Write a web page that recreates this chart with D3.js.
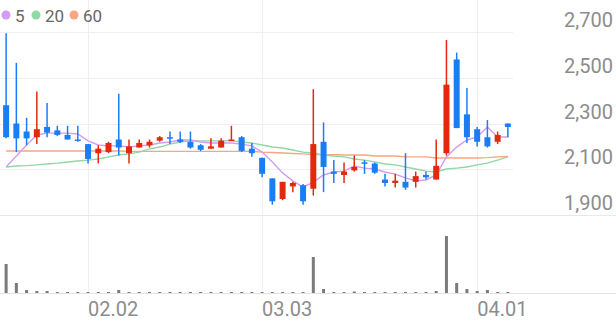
<!DOCTYPE html>
<html>
<head>
<meta charset="utf-8">
<script src="https://cdn.jsdelivr.net/npm/d3@7"></script>
<style>
  html, body { margin: 0; padding: 0; background: #fff; }
  svg { display: block; font-family: Roboto, "Noto Sans", sans-serif; }
</style>
</head>
<body>
<div id="viz"></div>
<script>
// trading days (2026)
const dates = [
  "2026-01-21","2026-01-22","2026-01-23","2026-01-26","2026-01-27","2026-01-28","2026-01-29","2026-01-30",
  "2026-02-02","2026-02-03","2026-02-04","2026-02-05","2026-02-06","2026-02-09","2026-02-10","2026-02-11",
  "2026-02-12","2026-02-13","2026-02-19","2026-02-20","2026-02-23","2026-02-24","2026-02-25","2026-02-26",
  "2026-02-27","2026-03-03","2026-03-04","2026-03-05","2026-03-06","2026-03-09","2026-03-10","2026-03-11",
  "2026-03-12","2026-03-13","2026-03-16","2026-03-17","2026-03-18","2026-03-19","2026-03-20","2026-03-23",
  "2026-03-24","2026-03-25","2026-03-26","2026-03-27","2026-03-30","2026-03-31","2026-04-01","2026-04-02",
  "2026-04-03","2026-04-06"
];

const open  = [2380,2300,2265,2240,2285,2270,2250,2230,2210,2170,2175,2230,2170,2195,2205,2225,2240,2230,2220,2205,2190,2195,2225,2240,2190,
               2150,2060,1970,2025,2030,2015,2220,2090,2075,2095,2130,2125,2055,2040,2045,2045,2075,2055,2170,2580,2340,2275,2240,2220,2300];
const high  = [2695,2565,2325,2440,2390,2290,2290,2290,2210,2205,2220,2430,2230,2230,2230,2245,2265,2265,2265,2210,2235,2235,2290,2245,2215,
               2150,2060,2045,2045,2035,2450,2305,2140,2130,2160,2140,2130,2080,2080,2170,2090,2090,2230,2665,2610,2455,2285,2315,2265,2300];
const low   = [2235,2175,2205,2210,2240,2245,2230,2220,2125,2125,2170,2160,2125,2195,2195,2220,2210,2215,2190,2180,2190,2195,2225,2175,2155,
               2065,1945,1965,2000,1945,1985,2000,2040,2040,2090,2080,2080,2025,2020,2010,2020,2055,2055,2160,2280,2215,2200,2195,2210,2240];
const close = [2240,2235,2235,2275,2260,2250,2230,2225,2145,2190,2215,2195,2200,2215,2220,2240,2235,2220,2195,2185,2200,2225,2230,2180,2170,
               2080,1960,2045,2040,1960,2210,2110,2080,2090,2110,2125,2085,2040,2050,2020,2070,2065,2115,2470,2280,2240,2220,2200,2250,2285];

const volume = [2900,1000,300,200,200,100,100,100,100,100,100,300,100,100,100,100,100,100,100,100,100,100,100,100,100,
                100,100,100,100,100,3600,400,100,100,150,100,100,100,100,100,100,100,200,5700,1000,400,200,300,100,100];

// moving averages
const ma5  = [2110,2158,2206,2250,2258,2258,2258,2254,2224,2206,2202,2202,2197,2202,2206,2215,2219,2228,2228,2219,2215,2215,2215,2210,2202,
              2175,2132,2084,2049,2022,2044,2075,2088,2092,2114,2105,2101,2088,2079,2062,2049,2053,2075,2154,2197,2228,2241,2285,2241,2241];
const ma20 = [2110,2114,2116,2119,2123,2127,2132,2136,2140,2145,2154,2162,2167,2175,2189,2197,2210,2219,2224,2224,2224,2224,2224,2219,2215,
              2206,2197,2193,2184,2175,2171,2162,2158,2154,2145,2140,2132,2123,2119,2110,2101,2092,2088,2101,2105,2110,2119,2127,2140,2154];
const ma60 = [2180,2180,2180,2180,2180,2180,2180,2180,2180,2180,2180,2180,2178,2178,2178,2178,2178,2178,2178,2178,2178,2178,2178,2178,2178,
              2175,2173,2171,2169,2167,2164,2164,2164,2162,2162,2162,2158,2158,2158,2154,2154,2154,2149,2149,2149,2149,2149,2151,2154,2156];

const priceTicks = [1900, 2100, 2300, 2500, 2700];
const monthTicks = ["2026-02-02", "2026-03-03", "2026-04-01"];
const maNames = ["5", "20", "60"];
const maColors = ["#d49cf0", "#90d8a4", "#f7a582"];

const upColor = "#e2290c", downColor = "#1b7df4";

const W = 616, H = 321;
const svg = d3.select("#viz").append("svg").attr("width", W).attr("height", H);

const x = d3.scaleBand().domain(dates).range([1, 513]).padding(0);
const cx = d => x(d) + x.bandwidth() / 2;
const y = d3.scaleLinear().domain([1900, 2700]).range([215, 32]);
const yv = d3.scaleLinear().domain([0, 7800]).range([293, 215]);

const rows = dates.map((d, i) => ({date: d, o: open[i], h: high[i], l: low[i], c: close[i], v: volume[i]}));

// grid
const grid = svg.append("g");
grid.selectAll("line.h").data(priceTicks.filter(t => t !== 1900)).join("line")
  .attr("x1", 0).attr("x2", 513)
  .attr("y1", d => Math.round(y(d)) + 0.5).attr("y2", d => Math.round(y(d)) + 0.5)
  .attr("stroke", "#efefef");
grid.selectAll("line.v").data(monthTicks).join("line")
  .attr("x1", d => Math.round(cx(d)) + 0.5).attr("x2", d => Math.round(cx(d)) + 0.5)
  .attr("y1", 0).attr("y2", 293)
  .attr("stroke", "#efefef");
grid.append("line").attr("x1", 0).attr("x2", W).attr("y1", 215.5).attr("y2", 215.5).attr("stroke", "#e8e8e8");
grid.append("line").attr("x1", 0).attr("x2", W).attr("y1", 293.5).attr("y2", 293.5).attr("stroke", "#e3e3e3");

// moving averages
const line = d3.line().x((d, i) => cx(dates[i])).y(d => y(d));
[ma60, ma20, ma5].forEach((s, k) => {
  svg.append("path").datum(s)
    .attr("fill", "none")
    .attr("stroke", maColors[2 - k])
    .attr("stroke-width", 1.4)
    .attr("d", line);
});

// candles
const candles = svg.append("g").selectAll("g").data(rows).join("g");
candles.append("line")
  .attr("x1", d => cx(d.date)).attr("x2", d => cx(d.date))
  .attr("y1", d => y(d.h)).attr("y2", d => y(d.l))
  .attr("stroke", d => d.c >= d.o ? upColor : downColor)
  .attr("stroke-width", 1.5);
candles.append("rect")
  .attr("x", d => cx(d.date) - 3)
  .attr("width", 6)
  .attr("y", d => y(Math.max(d.o, d.c)))
  .attr("height", d => Math.max(1.5, Math.abs(y(d.o) - y(d.c))))
  .attr("fill", d => d.c >= d.o ? upColor : downColor);

// volume
svg.append("g").selectAll("rect").data(rows).join("rect")
  .attr("x", d => cx(d.date) - 1.5)
  .attr("width", 3)
  .attr("y", d => yv(d.v))
  .attr("height", d => yv(0) - yv(d.v))
  .attr("fill", "#7b7b7b");

// right price axis
svg.append("g").selectAll("text").data(priceTicks).join("text")
  .attr("x", 613)
  .attr("y", d => y(d) - 5)
  .attr("text-anchor", "end")
  .attr("font-size", 20)
  .attr("fill", "#8c8c8c")
  .text(d => d3.format(",")(d));

// month labels
const fmt = d3.timeFormat("%m.%d"), parse = d3.timeParse("%Y-%m-%d");
svg.append("g").selectAll("text").data(monthTicks).join("text")
  .attr("x", d => cx(d))
  .attr("y", 316)
  .attr("font-size", 20)
  .attr("fill", "#8c8c8c")
  .text(d => fmt(parse(d)));

// legend
const legendX = [6, 36, 74];
const lg = svg.append("g").selectAll("g").data(maNames).join("g");
lg.append("circle")
  .attr("cx", (d, i) => legendX[i]).attr("cy", 15).attr("r", 4.5)
  .attr("fill", (d, i) => maColors[i]);
lg.append("text")
  .attr("x", (d, i) => legendX[i] + 9).attr("y", 21.5)
  .attr("font-size", 17)
  .attr("fill", "#666")
  .text(d => d);
</script>
</body>
</html>
